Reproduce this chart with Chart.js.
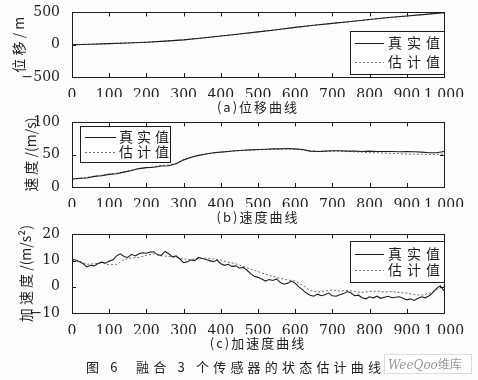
<!DOCTYPE html>
<html>
<head>
<meta charset="utf-8">
<script src="https://cdn.jsdelivr.net/npm/chart.js@4.4.1/dist/chart.umd.min.js"></script>
<style>
  body { margin: 0; background: #fdfdfd; }
  #wrap { position: relative; width: 478px; height: 380px; overflow: hidden; }
  canvas { position: absolute; left: 0; }
  .cap { position: absolute; left: 0; width: 516px; text-align: center; font: 13px 'Noto Sans CJK SC', serif; color: #222; letter-spacing: 2px; }
  #fig { left: 86px; width: auto; text-align: left; letter-spacing: 4.2px; }
  #wm { position: absolute; left: 384px; top: 354px; width: 88px; height: 20px; border: 1px solid #ddd; background: #fff;
        font: italic 12px 'DejaVu Serif', serif; color: #9a9a9a; line-height: 20px; padding-left: 3px; box-sizing: border-box; }
  #wm span { font: normal 12px 'Noto Sans CJK SC', sans-serif; }
</style>
</head>
<body>
<div id="wrap">
  <canvas id="c1" width="478" height="97" style="top:0"></canvas>
  <canvas id="c2" width="478" height="97" style="top:110px"></canvas>
  <canvas id="c3" width="478" height="112" style="top:222px"></canvas>
  <div class="cap" style="top:97px">(a)位移曲线</div>
  <div class="cap" style="top:207px">(b)速度曲线</div>
  <div class="cap" style="top:333px">(c)加速度曲线</div>
  <div class="cap" id="fig" style="top:357px">图 6&nbsp;&nbsp;融合 3 个传感器的状态估计曲线</div>
  <div id="wm">WeeQoo<span>维库</span></div>
</div>
<script>
'use strict';

const LABELS = ['真实值', '估计值'];

const T50 = [0, 50, 100, 150, 200, 250, 300, 350, 400, 450, 500, 550, 600, 650, 700, 750, 800, 850, 900, 950, 1000];
const T20 = [0, 20, 40, 60, 80, 100, 120, 140, 160, 180, 200, 220, 240, 260, 280, 300, 320, 340, 360, 380, 400,
  420, 440, 460, 480, 500, 520, 540, 560, 580, 600, 620, 640, 660, 680, 700, 720, 740, 760, 780, 800,
  820, 840, 860, 880, 900, 920, 940, 960, 980, 1000];
const T10 = [0, 10, 20, 30, 40, 50, 60, 70, 80, 90, 100, 110, 120, 130, 140, 150, 160, 170, 180, 190, 200,
  210, 220, 230, 240, 250, 260, 270, 280, 290, 300, 310, 320, 330, 340, 350, 360, 370, 380, 390, 400,
  410, 420, 430, 440, 450, 460, 470, 480, 490, 500, 510, 520, 530, 540, 550, 560, 570, 580, 590, 600,
  610, 620, 630, 640, 650, 660, 670, 680, 690, 700, 710, 720, 730, 740, 750, 760, 770, 780, 790, 800,
  810, 820, 830, 840, 850, 860, 870, 880, 890, 900, 910, 920, 930, 940, 950, 960, 970, 980, 990, 1000];

// displacement (m), every 50
const POS_TRUE = [0, 8, 17, 27, 38, 55, 75, 103, 135, 165, 198, 232, 268, 300, 330, 360, 390, 420, 445, 470, 495];
const POS_EST  = [0, 7, 16, 28, 39, 54, 76, 102, 134, 166, 197, 233, 267, 301, 331, 359, 389, 418, 444, 468, 492];

// velocity (m/s), every 20
const VEL_TRUE = [12, 13.5, 14, 16.5, 17.5, 19.5, 20.5, 23, 25.5, 28.5, 30, 30.5, 32.5, 33, 36, 42, 46, 49, 51, 53, 54,
  55, 56, 57, 57.5, 58, 58.5, 59, 59, 59.5, 59, 58, 55.5, 55, 55.5, 56, 56, 55.5, 55.5, 55, 55.5,
  55, 55, 55, 54.5, 55, 54.5, 54, 53, 53, 55];
const VEL_EST  = [13, 13.5, 15, 16.5, 18.5, 20, 21.5, 23.5, 26, 28.5, 30, 31.5, 33, 34, 37, 42, 45.5, 48.5, 51, 52.5, 54,
  55, 56, 56.5, 57, 57.5, 58, 58.5, 59, 59, 58.5, 57.5, 56, 55, 55, 55.5, 55.5, 55, 54.5, 54, 53,
  53, 52.5, 52, 51.5, 51, 51, 50.5, 50.5, 50.5, 51];

// acceleration (m/s^2)
const ACC_TRUE = [10.4, 10.2, 9.6, 8.8, 7.6, 8.2, 8.0, 8.9, 9.4, 9.0, 9.8, 10.3, 11.8, 12.6, 11.6, 11.2, 12.4, 11.8, 12.6, 13.0,
  12.8, 13.3, 13.4, 12.2, 12.0, 13.5, 12.6, 11.4, 11.8, 10.6, 9.2, 9.6, 10.2, 10.0, 11.2, 10.8, 10.4, 10.0, 9.6, 10.2,
  8.8, 8.2, 8.6, 7.8, 8.0, 7.2, 7.4, 6.4, 5.0, 4.0, 3.6, 3.0, 2.2, 2.8, 2.4, 3.0, 1.6, 1.0, 1.4, 2.2,
  1.4, 0.0, -1.2, -2.4, -3.2, -3.6, -2.8, -3.4, -3.0, -2.4, -3.4, -3.6, -3.0, -2.6, -1.8, -2.4, -3.4, -3.2, -4.2, -4.6,
  -3.8, -4.2, -3.6, -4.4, -4.0, -3.6, -4.2, -4.0, -3.8, -4.4, -5.0, -4.6, -5.2, -4.4, -3.8, -4.2, -3.4, -2.2, -0.6, 0.4, -1.6];
const ACC_EST  = [10.0, 9.8, 8.6, 8.8, 9.2, 8.4, 8.6, 10.4, 11.0, 11.2, 12.0, 12.6, 11.8, 11.6, 11.2, 10.6, 10.4, 10.8, 11.0, 10.6,
  10.2, 9.4, 8.8, 7.8, 6.8, 5.8, 4.8, 4.0, 3.2, 2.6, 2.2, 0.6, -1.4, -2.0, -1.6, -1.2, -1.6, -1.4, -1.8, -2.2,
  -1.8, -1.6, -2.0, -1.8, -2.2, -2.4, -3.0, -3.2, -2.6, -1.0, 0.2];

function pts(xs, ys) { return ys.map((v, i) => ({ x: xs[i], y: v })); }

const TICKFONT = { family: 'DejaVu Serif', size: 14 };
const INK = '#1e1e1e';

const frame = {
  id: 'frame',
  afterDraw(chart, args, o) {
    const { ctx, chartArea: a, scales: { x, y } } = chart;
    ctx.save();
    ctx.strokeStyle = INK;
    ctx.lineWidth = 1;
    ctx.beginPath();
    x.ticks.forEach(t => {
      const p = Math.round(x.getPixelForValue(t.value)) + 0.5;
      ctx.moveTo(p, a.bottom); ctx.lineTo(p, a.bottom - 4);
      ctx.moveTo(p, a.top); ctx.lineTo(p, a.top + 4);
    });
    y.ticks.forEach(t => {
      const p = Math.round(y.getPixelForValue(t.value)) + 0.5;
      ctx.moveTo(a.left, p); ctx.lineTo(a.left + 4, p);
      ctx.moveTo(a.right, p); ctx.lineTo(a.right - 4, p);
    });
    ctx.stroke();
    ctx.strokeRect(Math.round(a.left) + 0.5, Math.round(a.top) + 0.5, Math.round(a.width), Math.round(a.height));

    // legend box
    const L = o.box;
    ctx.fillStyle = '#fff';
    ctx.fillRect(L.x, L.y, L.w, L.h);
    ctx.strokeRect(L.x + 0.5, L.y + 0.5, L.w, L.h);
    ctx.font = "14px 'Noto Sans CJK SC', serif";
    ctx.textBaseline = 'middle';
    ctx.fillStyle = INK;
    LABELS.forEach((lab, i) => {
      const ry = L.y + L.r0 + i * L.dy;
      ctx.beginPath();
      ctx.setLineDash(i ? [2, 2] : []);
      ctx.strokeStyle = i ? '#777' : INK;
      ctx.moveTo(L.x + 5, ry + 0.5); ctx.lineTo(L.x + L.sw, ry + 0.5);
      ctx.stroke();
      [...lab].forEach((ch, k) => ctx.fillText(ch, L.x + L.tx + k * L.pitch, ry));
    });
    ctx.restore();
  }
};

function makeChart(id, o) {
  return new Chart(document.getElementById(id).getContext('2d'), {
    type: 'line',
    data: {
      datasets: [
        { label: LABELS[0], data: pts(o.tTrue, o.vTrue), borderColor: INK, borderWidth: 1.1, pointRadius: 0, tension: 0 },
        { label: LABELS[1], data: pts(o.tEst, o.vEst), borderColor: '#6a6a6a', borderWidth: 1, borderDash: [2, 2], pointRadius: 0, tension: 0 }
      ]
    },
    options: {
      responsive: false, animation: false,
      layout: { padding: { top: o.padTop, left: 0, right: 34, bottom: 0 } },
      plugins: { legend: { display: false }, tooltip: { enabled: false }, frame: { box: o.box } },
      scales: {
        x: {
          type: 'linear', min: 0, max: 1000,
          grid: { display: false }, border: { display: false },
          ticks: { stepSize: 100, autoSkip: false, color: INK, font: TICKFONT, padding: 2, maxRotation: 0,
                   callback: v => v === 1000 ? '1 000' : String(v) },
          afterFit: s => { s.height = o.xh; }
        },
        y: {
          min: o.min, max: o.max,
          grid: { display: false }, border: { display: false },
          ticks: { stepSize: o.step, color: INK, font: TICKFONT, padding: 4,
                   callback: v => v < 0 ? '\u2212' + Math.abs(v) : String(v) },
          title: { display: true, text: o.title, color: INK, padding: { top: o.tpad, bottom: 0 },
                   font: { family: "'Noto Sans CJK SC', serif", size: 14 } },
          afterFit: s => { s.width = 72; }
        }
      }
    },
    plugins: [frame]
  });
}

makeChart('c1', { tTrue: T50, vTrue: POS_TRUE, tEst: T50, vEst: POS_EST, min: -500, max: 500, step: 500,
  title: '位 移 / m', tpad: 10, padTop: 10, xh: 20,
  box: { x: 350, y: 31, w: 94, h: 43, r0: 12, dy: 19, sw: 34, tx: 38, pitch: 19 } });
makeChart('c2', { tTrue: T20, vTrue: VEL_TRUE, tEst: T20, vEst: VEL_EST, min: 0, max: 100, step: 50,
  title: '速 度 /(m/s)', tpad: 22, padTop: 10, xh: 20,
  box: { x: 80, y: 16, w: 90, h: 36, r0: 11, dy: 15, sw: 36, tx: 39, pitch: 18 } });
makeChart('c3', { tTrue: T10, vTrue: ACC_TRUE, tEst: T20, vEst: ACC_EST, min: -10, max: 20, step: 10,
  title: '加 速 度 /(m/s²)', tpad: 17, padTop: 11, xh: 21,
  box: { x: 350, y: 19, w: 94, h: 41, r0: 13, dy: 16, sw: 34, tx: 38, pitch: 19 } });
</script>
</body>
</html>
